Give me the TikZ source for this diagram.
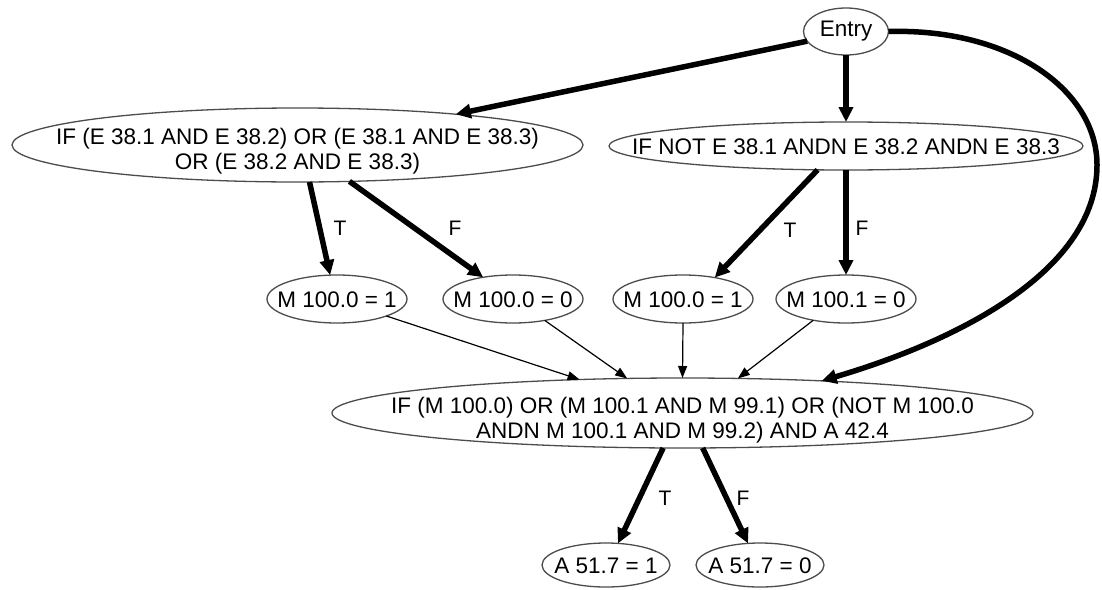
\documentclass[tikz,border=0pt]{standalone}
\usepackage{fontspec}
\setmainfont{Liberation Sans}
\usetikzlibrary{shapes.geometric,arrows.meta}
\begin{document}
\begin{tikzpicture}[x=1pt,y=-1pt,
  every node/.style={font=\fontsize{22.5}{25}\selectfont},
  oval/.style={ellipse,draw=black!70,line width=1.3pt,fill=white,inner sep=0pt,outer sep=0pt},
  txt/.style={inner sep=0pt,align=center},
  flow/.style={line width=5.5pt,-{Triangle[length=15pt,width=14pt]}},
  thin/.style={line width=1.2pt,-{Triangle[length=12pt,width=9pt]}},
  lab/.style={font=\fontsize{21}{24}\selectfont,inner sep=0pt}]
\useasboundingbox (0,0) rectangle (1102,589);

% ellipse outlines
\node[oval,minimum width=85pt,minimum height=47pt] (entry) at (846,31.5) {};
\node[oval,minimum width=571pt,minimum height=74pt] (ifL) at (297.5,145) {};
\node[oval,minimum width=474pt,minimum height=48pt] (ifR) at (846,146) {};
\node[oval,minimum width=140pt,minimum height=48pt] (m1) at (337,299) {};
\node[oval,minimum width=140pt,minimum height=48pt] (m2) at (513,299) {};
\node[oval,minimum width=140pt,minimum height=48pt] (m3) at (683,299) {};
\node[oval,minimum width=140pt,minimum height=48pt] (m4) at (846,299) {};
\node[oval,minimum width=701pt,minimum height=70pt] (bot) at (682.5,413) {};
\node[oval,minimum width=128pt,minimum height=44pt] (a1) at (606,565) {};
\node[oval,minimum width=128pt,minimum height=44pt] (a2) at (760,565) {};

% ellipse texts
\node[txt] (entryt) at (846,31.5) {Entry};
\node[txt] (ifLt) at (297.5,151)
  {IF (E 38.1 AND E 38.2) OR (E 38.1 AND E 38.3)\\OR (E 38.2 AND E 38.3)};
\node[txt] (ifRt) at (846,147) {IF NOT E 38.1 ANDN E 38.2 ANDN E 38.3};
\node[txt] (m1t) at (337,300) {M 100.0 = 1};
\node[txt] (m2t) at (513,300) {M 100.0 = 0};
\node[txt] (m3t) at (683,300) {M 100.0 = 1};
\node[txt] (m4t) at (846,300) {M 100.1 = 0};
\node[txt] (bott) at (682.5,420)
  {IF (M 100.0) OR (M 100.1 AND M 99.1) OR (NOT M 100.0\\ANDN M 100.1 AND M 99.2) AND A 42.4};
\node[txt] (a1t) at (606,566) {A 51.7 = 1};
\node[txt] (a2t) at (760,566) {A 51.7 = 0};

% branch labels
\node[lab] (t1) at (340,228) {T};
\node[lab] (f1) at (455,228) {F};
\node[lab] (t2) at (790,230) {T};
\node[lab] (f2) at (862,228) {F};
\node[lab] (t3) at (665,498) {T};
\node[lab] (f3) at (743,498) {F};

% control flow
\draw[flow] (entry.194) -- (ifL.11);
\draw[flow] (entry.south) -- (ifR.north);
\draw[flow] (entry.east) .. controls (1010,28) and (1097,90) .. (1097,165)
  .. controls (1097,270) and (960,340) .. (bot.13);
\draw[flow] (ifL.288) -- (m1.106);
\draw[flow] (ifL.325) -- (m2.144);
\draw[flow] (ifR.220) -- (m3.34);
\draw[flow] (ifR.south) -- (m4.north);
\draw[thin] (m1.341) -- (bot.162);
\draw[thin] (m2.326) -- (bot.148);
\draw[thin] (m3.south) -- (bot.north);
\draw[thin] (m4.213) -- (bot.32);
\draw[flow] (bot.241) -- (a1.61);
\draw[flow] (bot.300) -- (a2.119);
\end{tikzpicture}
\end{document}
